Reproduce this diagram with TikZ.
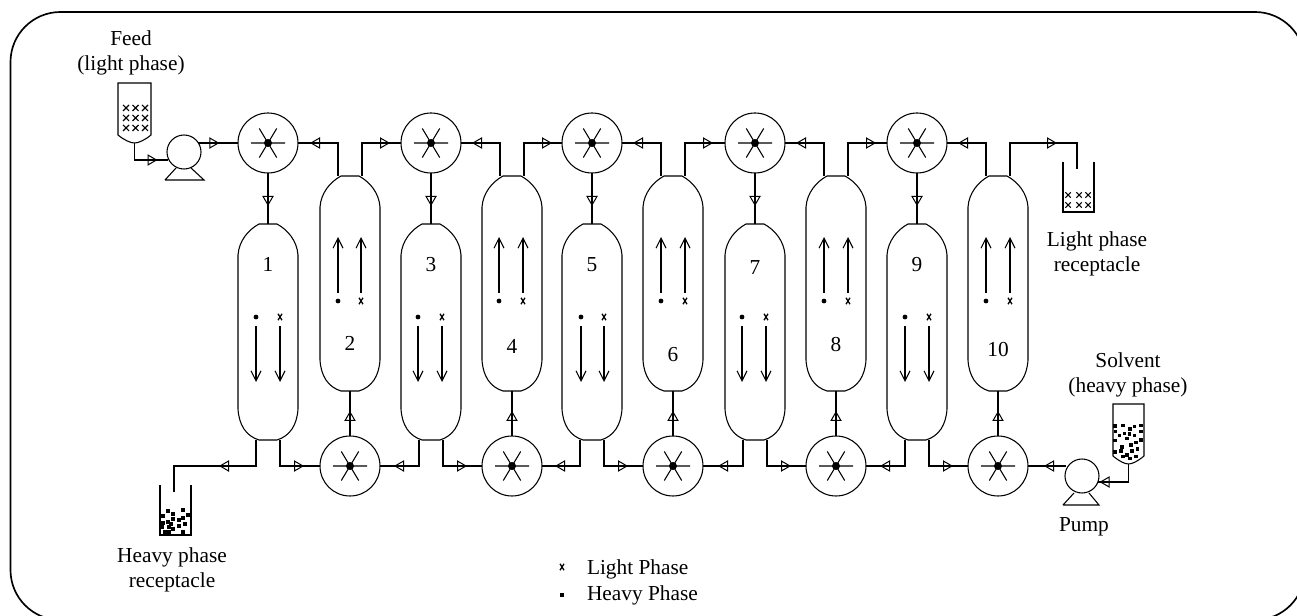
\documentclass[tikz,border=0pt]{standalone}
\usepackage{fontspec}
\setmainfont{Liberation Serif}
\usetikzlibrary{arrows.meta,calc,decorations.markings}
\tikzset{
  pipe/.style={line width=0.8pt,line join=miter},
  flowat/.style={postaction={decorate,decoration={markings,mark=at position #1*0.75pt with {\arrow[line width=0.75pt]{Triangle[open,length=7.5pt,width=8.5pt]}}}}},
  vessel/.style={inner sep=0pt,outer sep=0pt,minimum width=45pt,minimum height=#1,draw=none},
  mixer/.style={circle,draw,line width=0.8pt,inner sep=0pt,outer sep=0pt,minimum size=45pt},
  pumpbody/.style={circle,draw,line width=0.8pt,inner sep=0pt,outer sep=0pt,minimum size=25.5pt},
  tankbox/.style={inner sep=0pt,outer sep=0pt,draw=none,minimum width=#1},
  lbl/.style={font=\fontsize{16}{18.75}\selectfont,inner sep=0pt,outer sep=0pt,align=center},
  lblbase/.style={lbl,anchor=base},
  phasearrow/.style={line width=0.8pt,-{Straight Barb[length=7.5pt,width=7.5pt,line width=0.8pt]}},
  crossmark/.style={line width=0.8pt},
}
\newcommand{\xmark}[2]{\draw[crossmark] (#1-3,#2-3) -- (#1+3,#2+3) (#1-3,#2+3) -- (#1+3,#2-3);}
\newcommand{\smallx}[2]{\draw[line width=0.95pt] (#1-2,#2-3.2) -- (#1+2,#2+3.2) (#1-2,#2+3.2) -- (#1+2,#2-3.2);}
\newcommand{\vesselshape}[1]{%
  \draw[pipe] ($(#1.north west)+(0,31)$) .. controls ($(#1.north west)+(1,17)$) and ($(#1.north west)+(10,6)$) .. ($(#1.north west)+(21,0)$)
    -- ($(#1.north east)+(-21,0)$) .. controls ($(#1.north east)+(-10,6)$) and ($(#1.north east)+(-1,17)$) .. ($(#1.north east)+(0,31)$)
    -- ($(#1.south east)+(0,-31)$) .. controls ($(#1.south east)+(-1,-15)$) and ($(#1.south east)+(-8,-4)$) .. ($(#1.south east)+(-21,0)$)
    -- ($(#1.south west)+(21,0)$) .. controls ($(#1.south west)+(8,-4)$) and ($(#1.south west)+(1,-15)$) .. ($(#1.south west)+(0,-31)$) -- cycle;}
\begin{document}
\begin{tikzpicture}[x=0.75pt,y=-0.75pt]
\useasboundingbox (0,0) rectangle (1297,616);
\clip (0,0) rectangle (1297,616);
% frame
\draw[line width=1.25pt,rounded corners=37.5pt] (10.5,12) rectangle (1305,620);

% odd vessels
\foreach \n/\x/\a/\b/\ny in {1/268/256/280/272,3/431/418/442/272,5/592/581/604/272,7/755/742/766/275,9/917/905/929/272}{
  \node[vessel=162pt] (c\n) at (\x,332) {};
  \vesselshape{c\n}
  \node[lblbase] (t\n) at (\x,\ny) {\n};
  \fill (\a,317) circle[radius=2.4];
  \smallx{\b}{317}
  \coordinate (as\n) at (\a,326); \coordinate (ae\n) at (\a,382);
  \coordinate (bs\n) at (\b,326); \coordinate (be\n) at (\b,382);
  \draw[phasearrow] (as\n) -- (ae\n);
  \draw[phasearrow] (bs\n) -- (be\n);
  \coordinate (cbl\n) at ($(c\n.south)+(-12,0)$);
  \coordinate (cbr\n) at ($(c\n.south)+(12,0)$);
}
% even vessels
\foreach \n/\x/\a/\b/\ny in {2/350/338/361/351,4/512/499/523/354,6/673/661/685/362,8/836/824/848/352,10/998/986/1010/357}{
  \node[vessel=161.25pt] (c\n) at (\x,283.5) {};
  \vesselshape{c\n}
  \node[lblbase] (t\n) at (\x,\ny) {\n};
  \fill (\a,301) circle[radius=2.4];
  \smallx{\b}{301}
  \coordinate (as\n) at (\a,293); \coordinate (ae\n) at (\a,237);
  \coordinate (bs\n) at (\b,293); \coordinate (be\n) at (\b,237);
  \draw[phasearrow] (as\n) -- (ae\n);
  \draw[phasearrow] (bs\n) -- (be\n);
  \coordinate (ctl\n) at ($(c\n.north)+(-12,0)$);
  \coordinate (ctr\n) at ($(c\n.north)+(12,0)$);
}
% mixers
\foreach \n/\x/\y in {1/268/143,3/431/143,5/592/143,7/755/143,9/917/143,2/350/466,4/512/466,6/673/466,8/836/466,10/998/466}{
  \node[mixer] (m\n) at (\x,\y) {};
  \begin{scope}[shift={(\x,\y)}]
    \draw[line width=0.8pt] (-17,0) -- (17,0) (-8.7,-14.5) -- (8.7,14.5) (-8.7,14.5) -- (8.7,-14.5);
    \fill (0,0) circle[radius=4];
  \end{scope}
}
% mixer to vessel
\foreach \n in {1,3,5,7,9} \draw[pipe,flowat=33] (m\n) -- (c\n);
\foreach \n in {2,4,6,8,10} \draw[pipe,flowat=25] (m\n) -- (c\n);
% top pipes
\foreach \f/\t in {2/1,4/3,6/5,8/7,10/9} \draw[pipe,flowat=61] (ctl\f) |- (m\t);
\foreach \f/\t in {2/3,4/5,6/7,8/9} \draw[pipe,flowat=61] (ctr\f) |- (m\t);
% bottom pipes
\foreach \f/\t in {3/2,5/4,7/6,9/8} \draw[pipe,flowat=51] (cbl\f) |- (m\t);
\foreach \f/\t in {1/2,3/4,5/6,7/8,9/10} \draw[pipe,flowat=50] (cbr\f) |- (m\t);

% feed tank
\node[tankbox=24.75pt,minimum height=45pt] (feed) at (134.5,113) {};
\draw[pipe] (feed.north west) -- ($(feed.south west)+(0,-8)$) .. controls ($(feed.south west)+(6,-3)$) and ($(feed.south)+(-4,0)$) .. (feed.south)
  .. controls ($(feed.south)+(4,0)$) and ($(feed.south east)+(-6,-3)$) .. ($(feed.south east)+(0,-8)$) -- (feed.north east) -- cycle;
\foreach \x in {126,135.5,145} \foreach \y in {108,118,128} {\xmark{\x}{\y}}
\node[lbl] (feedlabel) at (131,53) {Feed\\(light phase)};
% feed pump
\node[pumpbody] (p1) at (184,152) {};
\draw[pipe] (165,180) -- (204,180) -- (191,168) (165,180) -- (176,168);
\coordinate (p1in) at (168,160);
\coordinate (p1out) at (198.4,143);
\draw[pipe,flowat=40] (feed.south) |- (p1in);
\draw[pipe,flowat=21] (p1out) -- (m1);

% light receptacle
\node[tankbox=23.25pt,minimum height=37.5pt] (lightrec) at (1078.5,187) {};
\draw[pipe] (lightrec.north west) -- (lightrec.south west) -- (lightrec.south east) -- (lightrec.north east);
\foreach \x in {1068,1079,1088} \foreach \y in {195,205} {\draw[line width=0.8pt] (\x-2.7,\y-2.7) -- (\x+2.7,\y+2.7) (\x-2.7,\y+2.7) -- (\x+2.7,\y-2.7);}
\coordinate (lightturn) at (1077,143);
\coordinate (lightend) at (1077,169);
\draw[pipe,flowat=80] (ctr10) |- (lightturn) -- (lightend);
\node[lbl] (lightlabel) at (1097,254) {Light phase\\receptacle};

% heavy receptacle
\node[tankbox=23.25pt,minimum height=37.5pt] (heavyrec) at (175.5,510) {};
\draw[pipe] (heavyrec.north west) -- (heavyrec.south west) -- (heavyrec.south east) -- (heavyrec.north east);
\coordinate (heavyturn) at (174,466);
\coordinate (heavyend) at (174,492);
\draw[pipe,flowat=63] (cbl1) |- (heavyturn) -- (heavyend);
\begin{scope}[shift={(100,400)},x=0.25pt,y=-0.25pt]
\foreach \x/\y in {203/333,248/330,220/342,190/348,265/345,248/353,236/360,220/358,205/365,212/372,186/380,237/377,254/372,208/382,220/388,195/396,208/396,250/396,190/370}
  \fill (\x-6,\y-6) rectangle ++(12,12);
\end{scope}
\node[lbl] (heavylabel) at (172,570) {Heavy phase\\receptacle};

% solvent tank
\node[tankbox=23.25pt,minimum height=45pt] (solv) at (1128.5,434) {};
\draw[pipe] (solv.north west) -- ($(solv.south west)+(0,-8)$) .. controls ($(solv.south west)+(6,-3)$) and ($(solv.south)+(-4,0)$) .. (solv.south)
  .. controls ($(solv.south)+(4,0)$) and ($(solv.south east)+(-6,-3)$) .. ($(solv.south east)+(0,-8)$) -- (solv.north east) -- cycle;
\begin{scope}[shift={(950,340)},x=0.25pt,y=-0.25pt]
\foreach \x/\y in {495/258,518/257,553/260,573/257,540/268,496/275,573/275,508/287,523/281,538/283,553/287,495/302,530/296,573/300,558/308,543/315,515/322,495/337,512/333,545/333,562/327,530/345,518/350,540/356,557/350}
  \fill (\x-5.5,\y-5.5) rectangle ++(11,11);
\end{scope}
\node[lbl] (solvlabel) at (1128,375) {Solvent\\(heavy phase)};
% solvent pump
\node[pumpbody] (p2) at (1082,476) {};
\draw[pipe] (1063,505) -- (1099,505) -- (1089,493) (1063,505) -- (1074,493);
\coordinate (p2in) at (1098,482);
\coordinate (p2out) at (1066,466);
\draw[pipe,flowat=47] (solv.south) |- (p2in);
\draw[pipe,flowat=22] (p2out) -- (m10);
\node[lblbase] (pumplabel) at (1084,532) {Pump};

% legend
\smallx{562}{567}
\fill (560,593) rectangle (564,597);
\node[lbl,anchor=base west] (leglight) at (587,575) {Light Phase};
\node[lbl,anchor=base west] (legheavy) at (587,600) {Heavy Phase};
\end{tikzpicture}
\end{document}
